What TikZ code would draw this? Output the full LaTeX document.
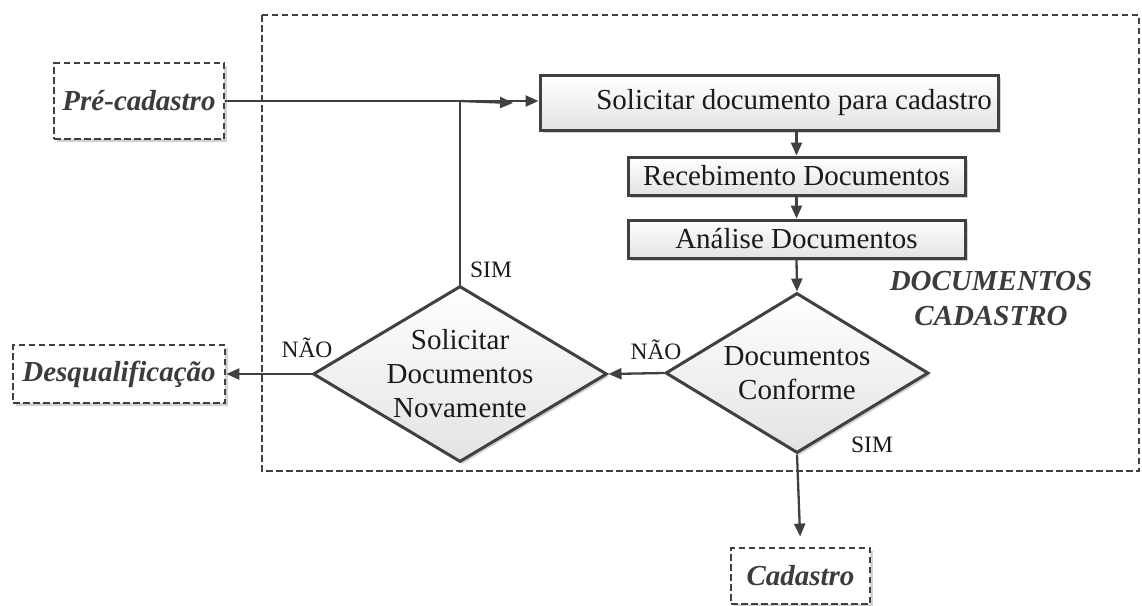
\documentclass[tikz,border=0pt]{standalone}
\usepackage{fontspec}
\setmainfont{Liberation Serif}
\usetikzlibrary{arrows.meta,shapes.geometric,shadows,calc}

\definecolor{edge}{HTML}{404040}
\definecolor{ink}{HTML}{1A1A1A}
\definecolor{tagink}{HTML}{3C3C3C}

\tikzset{
  bigfont/.style={font=\fontsize{29}{34}\selectfont},
  smallfont/.style={font=\fontsize{23.5}{27}\selectfont},
  shade/.style={top color=white, bottom color=gray!22},
  softshadow/.style={drop shadow={shadow xshift=2.5pt, shadow yshift=-2.5pt, fill=black, opacity=0.18}},
  procbox/.style={rectangle, draw=edge, line width=3pt, shade, softshadow,
    inner sep=0pt, bigfont, text=ink, align=center},
  decision/.style={diamond, draw=edge, line width=3pt, shade, softshadow, inner sep=0pt},
  dtext/.style={bigfont, text=ink, align=center, inner sep=0pt},
  terminal/.style={rectangle, draw=edge, line width=2.8pt, dash pattern=on 6.5pt off 3.5pt,
    fill=white, softshadow, inner sep=0pt,
    font=\fontsize{29}{34}\selectfont\bfseries\itshape, text=tagink},
  frame/.style={draw=edge, line width=2.8pt, dash pattern=on 6.5pt off 3.5pt},
  arr/.style={draw=edge, line width=2.3pt, -{Triangle[length=13pt, width=11pt]}},
  plain/.style={draw=edge, line width=2.3pt},
  tag/.style={smallfont, text=ink, inner sep=0pt},
}

\begin{document}
\begin{tikzpicture}[x=1pt, y=-1pt]
  \useasboundingbox (0,0) rectangle (1142,605);

  % process frame
  \draw[frame] (262,15) rectangle (1139,471);
  \node[font=\fontsize{29}{35}\selectfont\bfseries\itshape, text=tagink, align=center]
    (area) at (991,299) {DOCUMENTOS\\CADASTRO};

  % entry, exits
  \node[terminal, minimum width=170pt, minimum height=76pt] (pre) at (139,101) {Pré-cadastro};
  \node[terminal, minimum width=212pt, minimum height=58pt] (desq) at (119,374) {Desqualificação};
  \node[terminal, minimum width=139pt, minimum height=56pt] (cad) at (800.5,576) {Cadastro};

  % process steps
  \node[procbox, minimum width=458pt, minimum height=55pt] (sol) at (769,103) {};
  \node[dtext] (solt) at (794,103) {Solicitar documento para cadastro};
  \node[procbox, minimum width=337pt, minimum height=38pt] (rec) at (796.5,176) {Recebimento Documentos};
  \node[procbox, minimum width=337pt, minimum height=38pt] (ana) at (796.5,239) {Análise Documentos};

  % decisions (fixed size, text set on top)
  \node[decision, minimum width=263pt, minimum height=160pt] (dc) at (797,373) {};
  \node[dtext] (dct) at (dc.center) {Documentos\\Conforme};
  \node[decision, minimum width=294pt, minimum height=176pt] (sd) at (460,374) {};
  \node[dtext] (sdt) at (sd.center) {Solicitar\\Documentos\\Novamente};

  % connectors
  \coordinate (loopend) at (513,103);
  \draw[arr] (pre.east) -- (pre.east -| sol.west);
  \draw[plain] (sd.north) -- (sd.north |- pre.east);
  \draw[arr] (sd.north |- pre.east) -- (loopend);
  \draw[arr] (sol.south -| rec.north) -- (rec.north);
  \draw[arr] (rec.south) -- (ana.north);
  \draw[arr] (ana.south) -- (dc.north);
  \draw[arr] (dc.west) -- (sd.east);
  \draw[arr] (sd.west) -- (desq.east);
  \draw[arr, shorten >=10pt] (dc.south) -- (cad.north);

  % branch labels
  \node[tag] (n1) at (656,350) {NÃO};
  \node[tag] (s1) at (872,445) {SIM};
  \node[tag] (n2) at (307,348) {NÃO};
  \node[tag] (s2) at (491,270) {SIM};
\end{tikzpicture}
\end{document}
